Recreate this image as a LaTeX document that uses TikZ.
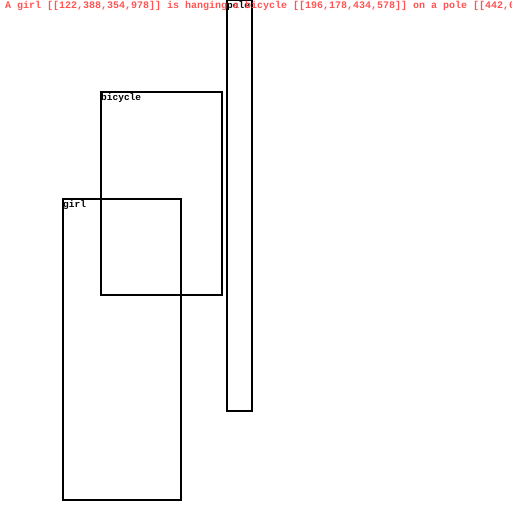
\documentclass[tikz,border=0pt]{standalone}
\usepackage{fontspec}
\newfontfamily\monob{Liberation Mono}[BoldFont={Liberation Mono Bold}]
\definecolor{captionred}{RGB}{255,85,85}
\begin{document}
\begin{tikzpicture}[x=1pt,y=-1pt,
  bbox/.style={draw=black,line width=2pt,fill=none,inner sep=0pt,outer sep=0pt,anchor=north west},
  blabel/.style={anchor=north west,inner sep=0pt,font=\monob\bfseries\fontsize{9.5}{10}\selectfont,text=black},
  caption/.style={anchor=base west,inner sep=0pt,font=\monob\bfseries\fontsize{10}{10}\selectfont,text=captionred}]
\useasboundingbox (0,0) rectangle (512,512);
\fill[white] (0,0) rectangle (512,512);
% boxes
\node[bbox,minimum width=121pt,minimum height=203.5pt] (bicycle) at (100.5,91.5) {};
\node[bbox,minimum width=118.5pt,minimum height=301pt] (girl) at (62.5,198.5) {};
\node[bbox,minimum width=25pt,minimum height=410.5pt] (pole) at (226.5,0) {};
% labels
\node[blabel] (lbicycle) at ([xshift=0.5pt,yshift=-1.5pt]bicycle.north west) {bicycle};
\node[blabel] (lgirl) at ([xshift=0.5pt,yshift=-1.5pt]girl.north west) {girl};
\node[blabel] (lpole) at ([xshift=0.5pt,yshift=-1.5pt]pole.north west) {pole};
% caption
\node[caption] (cap) at (5,8) {A girl [[122,388,354,978]] is hanging a bicycle [[196,178,434,578]] on a pole [[442,0,492,803]]};
\end{tikzpicture}
\end{document}
